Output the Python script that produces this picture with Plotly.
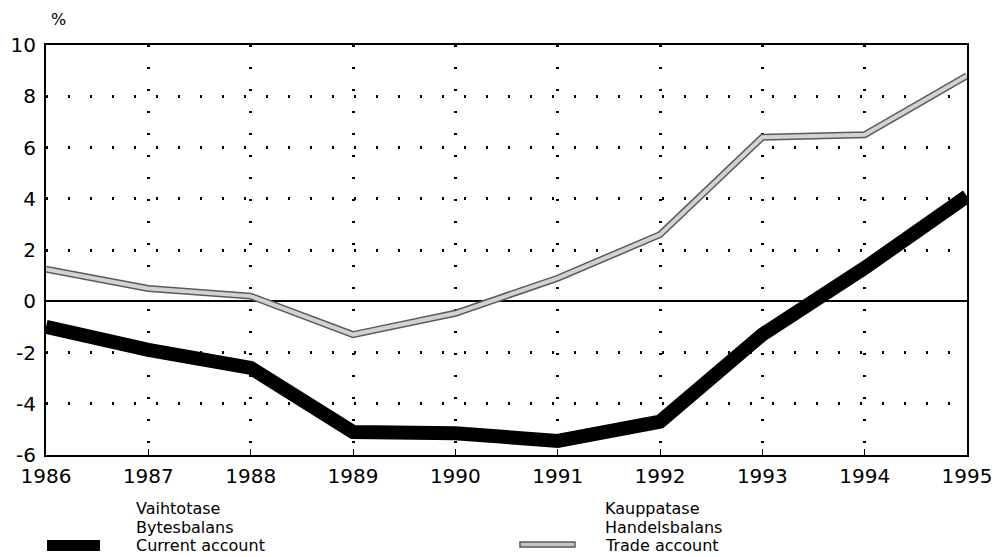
import plotly.graph_objects as go

years = [1986, 1987, 1988, 1989, 1990, 1991, 1992, 1993, 1994, 1995]
current_account = [-1.0, -1.9, -2.6, -5.1, -5.15, -5.45, -4.7, -1.3, 1.3, 4.1]
trade_account = [1.25, 0.5, 0.2, -1.3, -0.47, 0.9, 2.6, 6.4, 6.5, 8.8]
y_ticks = [10, 8, 6, 4, 2, 0, -2, -4, -6]
x_ticks = years

FONT = "DejaVu Sans"

fig = go.Figure()
fig.add_trace(go.Scatter(x=years, y=trade_account, mode="lines",
                         line=dict(color="#5a5a5a", width=7), showlegend=False, hoverinfo="skip"))
fig.add_trace(go.Scatter(x=years, y=trade_account, mode="lines",
                         line=dict(color="#d2d2d2", width=4), showlegend=False, name="Trade account"))
fig.add_trace(go.Scatter(x=years, y=current_account, mode="lines",
                         line=dict(color="black", width=14), showlegend=False, name="Current account"))

# page body has an 8px margin: compensate so the plot area sits at x 46..967, y 45..455
fig.update_layout(
    width=1002, height=557,
    margin=dict(l=38, r=43, t=37, b=110, autoexpand=False),
    paper_bgcolor="white", plot_bgcolor="white",
    font=dict(family=FONT, color="black"),
)
fig.update_xaxes(range=[1986, 1995], tickvals=x_ticks, ticktext=[str(v) for v in x_ticks],
                 automargin=False,
                 showgrid=True, gridcolor="black", gridwidth=2.5, griddash="2px,20px",
                 showline=True, linecolor="black", linewidth=2, mirror=True,
                 ticks="inside", ticklen=6, tickcolor="black", ticklabelstandoff=2,
                 tickfont=dict(size=20, family=FONT), zeroline=False)
fig.update_yaxes(range=[-6, 10], tickvals=y_ticks, ticktext=[str(v) for v in y_ticks],
                 automargin=False,
                 showgrid=True, gridcolor="black", gridwidth=2.5, griddash="2px,20px",
                 showline=True, linecolor="black", linewidth=2, mirror=True,
                 ticks="", ticklabelstandoff=4, tickfont=dict(size=20, family=FONT),
                 zeroline=True, zerolinecolor="black", zerolinewidth=2)

fig.add_annotation(text="%", xref="paper", yref="paper", x=0.0, y=1.0, xshift=12, yshift=14,
                   showarrow=False, font=dict(size=16, family=FONT), xanchor="center", yanchor="bottom")


def px(xp):
    return (xp - 46) / 921


def py(yp):
    return (455 - yp) / 410


# legend
left_lines = ["Vaihtotase", "Bytesbalans", "Current account"]
right_lines = ["Kauppatase", "Handelsbalans", "Trade account"]
ys = [508, 527, 545]
for txt, yy in zip(left_lines, ys):
    fig.add_annotation(text=txt, xref="paper", yref="paper", x=px(134), y=py(yy),
                       showarrow=False, xanchor="left", yanchor="middle", font=dict(size=16, family=FONT))
for txt, yy in zip(right_lines, ys):
    fig.add_annotation(text=txt, xref="paper", yref="paper", x=px(603), y=py(yy),
                       showarrow=False, xanchor="left", yanchor="middle", font=dict(size=16, family=FONT))

fig.add_shape(type="rect", xref="paper", yref="paper", x0=px(47), x1=px(100), y0=py(551), y1=py(540),
              fillcolor="black", line=dict(width=0))
fig.add_shape(type="rect", xref="paper", yref="paper", x0=px(520), x1=px(575), y0=py(547), y1=py(542),
              fillcolor="#c4c4c4", line=dict(color="#5a5a5a", width=1.5))

fig.write_html("out.html")
